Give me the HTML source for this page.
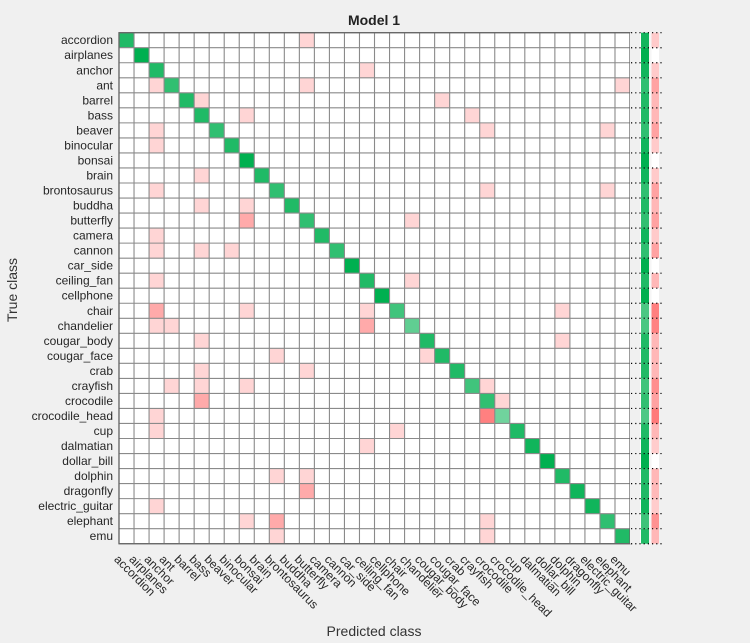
<!DOCTYPE html>
<html><head><meta charset="utf-8"><style>
html,body{margin:0;padding:0;background:#f0f0f0;}
svg{display:block;font-family:"Liberation Sans",Arial,sans-serif;}
</style></head><body>
<svg id="chart" width="750" height="643" viewBox="0 0 750 643" xmlns="http://www.w3.org/2000/svg">
<rect x="0" y="0" width="750" height="643" fill="#f0f0f0"/>
<text x="374" y="25" text-anchor="middle" font-size="14" font-weight="bold" fill="#222">Model 1</text>
<text x="374" y="636" text-anchor="middle" font-size="14" fill="#333">Predicted class</text>
<text x="17" y="290" text-anchor="middle" font-size="14" fill="#333" transform="rotate(-90,17,290)">True class</text>
<g id="cells"></g>
<g id="grid"></g>
<g id="ylabels"></g>
<g id="xlabels"></g>
<g id="summary"></g>
</svg>
<script>
const classes=["accordion","airplanes","anchor","ant","barrel","bass","beaver","binocular","bonsai","brain","brontosaurus","buddha","butterfly","camera","cannon","car_side","ceiling_fan","cellphone","chair","chandelier","cougar_body","cougar_face","crab","crayfish","crocodile","crocodile_head","cup","dalmatian","dollar_bill","dolphin","dragonfly","electric_guitar","elephant","emu"];
const diagCounts=[14,16,14,13,14,14,13,14,16,14,13,14,13,14,13,16,14,16,12,10,14,14,14,12,13,9,14,15,16,14,15,15,13,14];
const offRows=[0,2,3,3,3,4,4,5,5,6,6,6,7,9,10,10,10,11,11,12,12,13,14,14,14,16,16,18,18,18,18,19,19,19,20,20,21,21,22,22,23,23,23,23,24,24,25,25,26,26,27,29,29,30,31,32,32,32,33,33];
const offCols=[12,16,2,12,33,5,21,8,23,2,24,32,2,5,2,24,32,5,8,8,19,2,2,5,7,2,19,2,8,16,29,2,3,16,5,29,10,20,5,12,3,5,8,24,5,25,2,24,2,18,16,10,12,12,2,8,10,24,10,24];
const offCounts=[1,1,1,1,1,1,1,1,1,1,1,1,1,1,1,1,1,1,1,2,1,1,1,1,1,1,1,2,1,1,1,1,1,2,1,1,1,1,1,1,1,1,1,1,2,1,1,3,1,1,1,1,1,2,1,1,2,1,1,1];

const NS="http://www.w3.org/2000/svg";
const X0=119, Y0=32.7, CW=15.03, N=classes.length;
const xPos=i=>X0+i*CW, yPos=j=>Y0+j*CW;
const maxDiag=Math.max(...diagCounts);
function mix(r,g,b,a){a=Math.max(0,Math.min(1,a));return `rgb(${Math.round(255+(r-255)*a)},${Math.round(255+(g-255)*a)},${Math.round(255+(b-255)*a)})`;}
function mk(tag,attrs,parent){const e=document.createElementNS(NS,tag);for(const k in attrs)e.setAttribute(k,attrs[k]);parent.appendChild(e);return e;}
const cells=document.getElementById('cells'),grid=document.getElementById('grid');
mk('rect',{x:X0,y:Y0,width:N*CW,height:N*CW,fill:'#fff'},cells);
for(let j=0;j<N;j++){
  const c=mk('rect',{x:xPos(j),y:yPos(j),width:CW,height:CW,fill:mix(0,176,80,diagCounts[j]/maxDiag)},cells);
  
  
}
for(let k=0;k<offRows.length;k++){
  const c=mk('rect',{x:xPos(offCols[k]),y:yPos(offRows[k]),width:CW,height:CW,fill:mix(255,0,0,offCounts[k]/6)},cells);
  
  
}
for(let i=0;i<=N;i++){
  mk('line',{x1:xPos(i),y1:Y0,x2:xPos(i),y2:yPos(N),stroke:'#8a8a8a','stroke-width':1.1},grid);
  mk('line',{x1:X0,y1:yPos(i),x2:xPos(N),y2:yPos(i),stroke:'#8a8a8a','stroke-width':1.1},grid);
}
mk('rect',{x:X0,y:Y0,width:N*CW,height:N*CW,fill:'none',stroke:'#666','stroke-width':1.3},grid);
const yl=document.getElementById('ylabels'),xl=document.getElementById('xlabels');
classes.forEach((name,i)=>{
  const t=mk('text',{x:113,y:yPos(i)+CW/2+4,'text-anchor':'end','font-size':12,fill:'#262626'},yl);
  t.textContent=name;
  
  
  const cx=xPos(i)+CW/2, bx=cx-13, by=560;
  const u=mk('text',{x:bx,y:by,'font-size':12,fill:'#262626',transform:`rotate(45,${bx},${by})`},xl);
  u.textContent=name;
  
  
});
const sm=document.getElementById('summary');
mk('rect',{x:640,y:Y0,width:20,height:N*CW,fill:'#fff'},sm);
for(let j=0;j<N;j++){
  let err=0;for(let k=0;k<offRows.length;k++)if(offRows[k]===j)err+=offCounts[k];
  const tot=diagCounts[j]+err, rec=diagCounts[j]/tot, fnr=err/tot;
  const g=mk('rect',{x:641,y:yPos(j),width:8,height:CW,fill:mix(0,176,80,rec)},sm);
  
  
  const p=mk('rect',{x:651.5,y:yPos(j),width:7.5,height:CW,fill:fnr>0?mix(255,0,0,0.12+fnr*1.3):'#fff'},sm);
  
  
}
mk('rect',{x:630,y:Y0,width:10,height:N*CW,fill:'#f0f0f0'},sm);
mk('rect',{x:649,y:Y0,width:2.5,height:N*CW,fill:'#f6f6f6'},sm);
mk('rect',{x:659,y:Y0,width:4,height:N*CW,fill:'#f0f0f0'},sm);
for(let i=0;i<=N;i++){
  mk('line',{x1:631,y1:yPos(i),x2:662,y2:yPos(i),stroke:'#000','stroke-width':1.2,'stroke-dasharray':'1.2,3'},sm);
}
</script>
</body></html>
